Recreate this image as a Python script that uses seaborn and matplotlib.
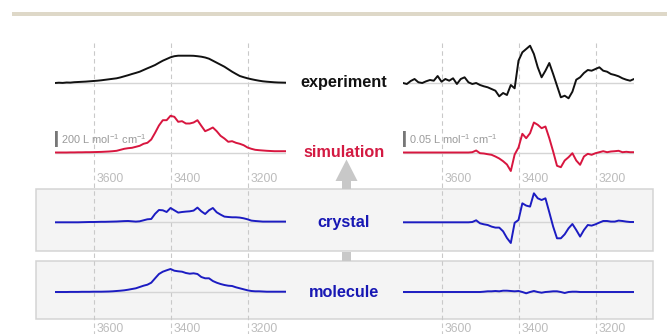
import numpy as np
import pandas as pd
import matplotlib
matplotlib.use("Agg")
import matplotlib.pyplot as plt
import seaborn as sns
from matplotlib.patches import Rectangle, Polygon

# ---------------- data ----------------
wavenumber = np.arange(3700, 3099, -10)  # cm-1, 3700 ... 3100

# left column: OH stretch absorption (relative heights)
exp_left = [0, 0.3, 0.1, 0.5, 0.4, 0.8, 1.0, 1.2, 1.4, 1.7, 2.0, 2.3, 2.7, 3.2, 3.7, 4.2,
            4.7, 5.6, 6.7, 7.8, 9.0, 10.1, 11.3, 13.0, 14.7, 16.3, 18.0, 20.2, 22.3, 24.0,
            25.7, 26.8, 27.3, 27.3, 27.3, 27.3, 27.2, 26.8, 26.3, 25.5, 24.3, 22.3, 20.3,
            18.3, 16.3, 13.8, 11.3, 9.1, 7.0, 5.8, 4.7, 3.8, 3.0, 2.3, 1.7, 1.3, 1.0, 0.7,
            0.5, 0.4, 0.3]
sim_left = [0, 0, 0, 0, 0.1, 0.1, 0.2, 0.2, 0.3, 0.3, 0.4, 0.5, 0.6, 0.8, 1.0, 1.3, 1.7,
            2.7, 3.7, 4.3, 4.7, 5.7, 6.7, 8.7, 9.7, 13.0, 19.7, 27.0, 32.3, 32.3, 36.7, 35.7,
            30.7, 31.3, 29.0, 29.0, 30.0, 32.3, 26.7, 21.3, 23.0, 25.0, 21.3, 16.7, 14.0,
            10.7, 11.3, 9.7, 8.7, 7.3, 5.0, 3.7, 2.7, 2.3, 2.0, 1.7, 1.5, 1.3, 1.3, 1.3, 1.3]
cry_left = [0, 0, 0, 0, 0, 0, 0, 0.1, 0.2, 0.3, 0.3, 0.4, 0.5, 0.5, 0.6, 0.7, 0.8, 1.0,
            1.2, 1.3, 1.0, 0.7, 1.0, 2.0, 3.0, 3.3, 8.5, 12.3, 12.0, 10.3, 14.3, 12.0, 9.7,
            10.3, 10.7, 11.0, 11.7, 14.7, 11.0, 8.3, 12.0, 14.3, 10.0, 7.7, 5.7, 5.3, 5.0,
            5.0, 4.7, 4.0, 3.0, 1.7, 1.3, 1.0, 0.7, 0.7, 0.7, 0.7, 0.7, 0.7, 0.7]
mol_left = [0, 0, 0, 0, 0.1, 0.1, 0.1, 0.2, 0.2, 0.2, 0.3, 0.3, 0.3, 0.4, 0.5, 0.7, 1.0,
            1.3, 1.7, 2.3, 3.0, 3.7, 5.0, 6.3, 7.3, 9.3, 13.7, 18.0, 20.3, 21.7, 23.0, 21.3,
            20.7, 20.3, 19.0, 18.3, 18.7, 18.0, 15.0, 13.7, 13.7, 11.0, 9.3, 8.0, 7.0, 6.3,
            6.0, 4.7, 3.7, 2.7, 1.7, 1.0, 0.7, 0.7, 0.5, 0.3, 0.3, 0.3, 0.3, 0.3, 0.3]

# right column: VCD-like signed signal (relative heights)
exp_right = [0, -1, 2, 4, 0.7, 0, 1.7, 3, 2.3, 7, 1.3, 4, 2.3, 4.7, -1, 4, 5.7, 0.7, -1,
             0, -2, -3.3, -4.3, -6, -7.7, -13.3, -10, -12, -2, -5.3, 22.3, 30.7, 34, 37.3,
             29, 15.7, 5.7, 12.3, 20, 9, -2.7, -14.3, -12.7, -15.3, -8.7, 3.3, 5.7, 10, 13,
             12.3, 14, 15.7, 12.3, 11.3, 9, 8, 6.7, 4.7, 3.3, 2.3, 4]
sim_right = [0] * 18 + [0.3, 2, -0.7, -1, -1.7, -2.3, -4, -6, -8.7, -12, -18.5, -2, 5,
                        18.7, 14.3, 19.3, 30, 27.7, 24.3, 26, 14.3, 1, -13.3, -14.7, -8,
                        -4.7, -0.7, -8, -12.3, -4, -1.3, -2.3, -0.7, 0.3, 1.3, 0.3, 1, 1.3,
                        1.7, 0.3, 0.7, 0.3, 0.3]
cry_right = [0] * 18 + [0.3, 2, -1, -2, -2.7, -4.3, -5.3, -5.3, -9, -15.7, -20.7, -0.5,
                        2.3, 19, 16.7, 15.7, 29, 24, 22.3, 24, 10, -4.3, -16, -16, -12, -6,
                        -1.7, -7.7, -14.3, -7.7, -2.7, -3.3, -2, -0.3, 1.3, 1.3, 0.7, 0.7,
                        1.7, 1.3, 0.7, 0.3, 0.3]
mol_right = [0] * 21 + [0.3, 0.7, 0.7, 1, 0.7, 1.3, 1.3, 1, 0.7, 1, 0, -1.3, 0, 1, 0,
                        -0.7, 0, 0.3, 0.7, 0.7, 0, -1, 0, 0.3, 0.3] + [0] * 15

row_names = ["experiment", "simulation", "crystal", "molecule"]
tick_values = [3600, 3400, 3200]
scale_labels = ["200 L mol$^{-1}$ cm$^{-1}$", "0.05 L mol$^{-1}$ cm$^{-1}$"]

# ---------------- style ----------------
sns.set_theme(style="white")
plt.rcParams["font.family"] = ["Liberation Sans", "DejaVu Sans"]
plt.rcParams["mathtext.fontset"] = "custom"
plt.rcParams["mathtext.rm"] = "Liberation Sans"
plt.rcParams["mathtext.it"] = "Liberation Sans:italic"
plt.rcParams["mathtext.bf"] = "Liberation Sans:bold"

W, H = 667, 334
fig = plt.figure(figsize=(W / 100, H / 100), dpi=100)
fig.patch.set_facecolor("white")

# background axes in pixel coordinates for decorations
bg = fig.add_axes([0, 0, 1, 1], zorder=0)
bg.set_xlim(0, W)
bg.set_ylim(H, 0)
bg.axis("off")

bg.add_patch(Rectangle((12, 12), W - 12, 3.5, facecolor="#ded8c8", edgecolor="none"))
for (y0, h) in [(189, 62), (261, 58)]:
    bg.add_patch(Rectangle((36, y0), 617, h, facecolor="#f4f4f4",
                           edgecolor="#d4d4d4", lw=1.1))
arrow_col = "#c8c8c8"
bg.add_patch(Polygon([(346.5, 159.5), (357.5, 181), (351, 181), (351, 189),
                      (342, 189), (342, 181), (335.5, 181)],
                     closed=True, facecolor=arrow_col, edgecolor="none"))
bg.add_patch(Rectangle((342, 251.5), 9, 9, facecolor=arrow_col, edgecolor="none"))

label_colors = ["#111111", "#d31a42", "#1818b4", "#1818b4"]
label_base = [87.3, 156.7, 226.8, 296.7]
for name, col, yb in zip(row_names, label_colors, label_base):
    bg.text(344, yb, name, ha="center", va="baseline", fontsize=11.7,
            fontweight="bold", color=col)

# ---------------- spectra ----------------
baselines = [83, 152.5, 222.3, 292]
line_colors = ["#111111", "#d8163f", "#1c1cc2", "#1c1cc2"]
columns = [
    (55, [exp_left, sim_left, cry_left, mol_left], scale_labels[0]),
    (403, [exp_right, sim_right, cry_right, mol_right], scale_labels[1]),
]

for x0, traces, slabel in columns:
    ax = fig.add_axes([x0 / W, 0, 231 / W, 1], zorder=1)
    ax.patch.set_alpha(0)
    ax.set_xlim(3700, 3100)
    ax.set_ylim(H, 0)
    ax.axis("off")

    ax.vlines(tick_values, 43, H, colors="#c9c9c9", linestyles=(0, (4, 3)), lw=0.8,
              zorder=1)
    for yb in baselines:
        ax.hlines(yb, 3700, 3100, colors="#d5d5d5", lw=1.0, zorder=1)
    for t in tick_values:
        for yt in (178.5, 328.5):
            ax.text(t - 9, yt, str(t), ha="left", va="center", fontsize=8.7,
                    color="#bcbcbc")

    for vals, yb, col in zip(traces, baselines, line_colors):
        df = pd.DataFrame({"wn": wavenumber, "y": yb - np.asarray(vals, float)})
        sns.lineplot(data=df, x="wn", y="y", ax=ax, color=col, lw=1.4,
                     estimator=None, sort=False, zorder=3)

    ax.vlines(3697, 130.8, 147, colors="#777777", lw=2.6, zorder=3)
    ax.text(3685, 139.5, slabel, ha="left", va="center", fontsize=7.9, color="#9a9a9a")
    ax.set_xlim(3700, 3100)
    ax.set_ylim(H, 0)
    ax.axis("off")

fig.savefig("out.png", dpi=100, facecolor="white")
